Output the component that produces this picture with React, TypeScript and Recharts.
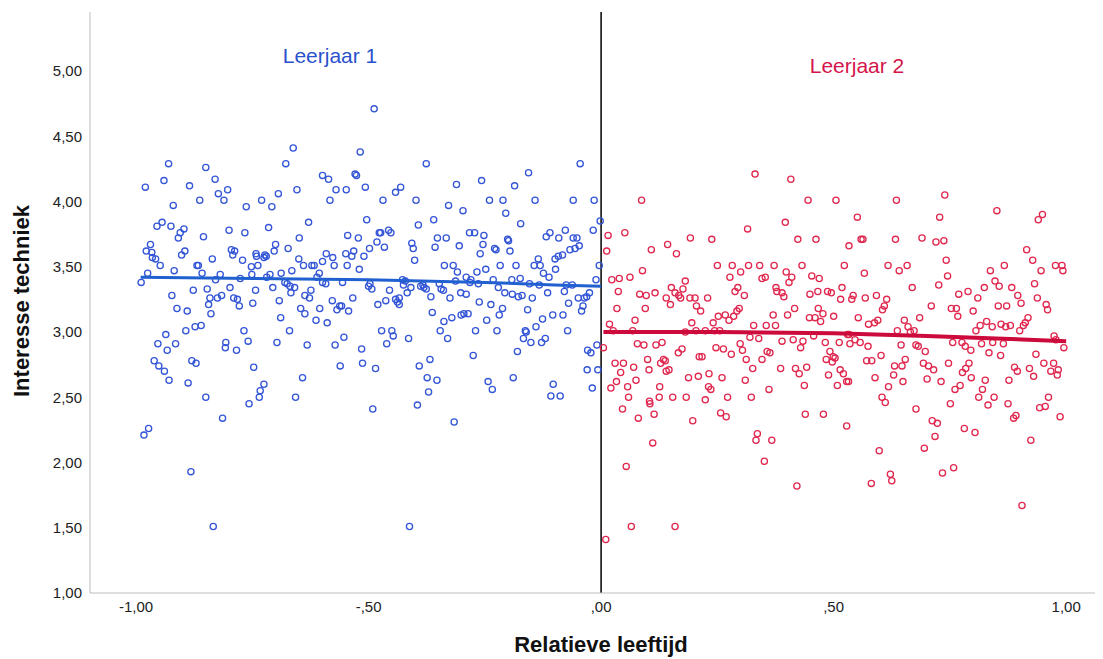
import { ScatterChart, Scatter, XAxis, YAxis, ReferenceLine } from "recharts";

// Leerjaar 1: [relatieve leeftijd, interesse techniek]
const leerjaar1: [number, number][] = [
  [-0.98, 4.11], [-0.93, 4.29], [-0.94, 4.16], [-0.92, 3.97], [-0.85, 4.26], [-0.83, 4.17], [-0.885, 4.12],
  [-0.863, 4.01], [-0.823, 4.06], [-0.803, 4.09], [-0.811, 4.01], [-0.763, 3.96], [-0.73, 4.01], [-0.708, 3.96],
  [-0.694, 4.06], [-0.678, 4.29], [-0.662, 4.41], [-0.654, 4.09], [-0.599, 4.2], [-0.586, 4.17], [-0.57, 4.09],
  [-0.548, 4.09], [-0.583, 4.01], [-0.629, 3.84], [-0.649, 3.72], [-0.673, 3.64], [-0.7, 3.67], [-0.715, 3.8],
  [-0.766, 3.76], [-0.8, 3.78], [-0.795, 3.63], [-0.788, 3.62], [-0.855, 3.73], [-0.897, 3.79], [-0.905, 3.76],
  [-0.909, 3.72], [-0.925, 3.81], [-0.944, 3.84], [-0.955, 3.81], [-0.969, 3.67], [-0.978, 3.62], [-0.966, 3.61],
  [-0.895, 3.62], [-0.742, 3.6], [-0.723, 3.59], [-0.703, 3.62], [-0.591, 3.6], [-0.549, 3.6], [-0.545, 3.74],
  [-0.488, 4.71], [-0.518, 4.38], [-0.376, 4.29], [-0.529, 4.21], [-0.526, 4.2], [-0.507, 4.11], [-0.469, 4.01],
  [-0.442, 4.07], [-0.431, 4.11], [-0.398, 4.01], [-0.311, 4.13], [-0.257, 4.16], [-0.328, 3.97], [-0.297, 3.93],
  [-0.24, 4.01], [-0.211, 4.01], [-0.205, 3.91], [-0.186, 4.12], [-0.156, 4.22], [-0.142, 4.01], [-0.173, 3.83],
  [-0.045, 4.29], [-0.06, 4.01], [-0.015, 4.01], [-0.002, 3.85], [-0.017, 3.78], [-0.077, 3.78], [-0.11, 3.76],
  [-0.118, 3.73], [-0.091, 3.72], [-0.06, 3.72], [-0.052, 3.72], [-0.047, 3.66], [-0.067, 3.63], [-0.056, 3.64],
  [-0.504, 3.86], [-0.522, 3.72], [-0.477, 3.76], [-0.474, 3.76], [-0.457, 3.78], [-0.452, 3.76], [-0.482, 3.69],
  [-0.466, 3.65], [-0.498, 3.64], [-0.393, 3.82], [-0.36, 3.86], [-0.407, 3.68], [-0.404, 3.64], [-0.352, 3.72],
  [-0.333, 3.72], [-0.357, 3.65], [-0.305, 3.66], [-0.283, 3.76], [-0.272, 3.76], [-0.252, 3.74], [-0.254, 3.67],
  [-0.229, 3.64], [-0.226, 3.63], [-0.201, 3.71], [-0.199, 3.7], [-0.196, 3.62], [-0.532, 3.62], [-0.26, 3.6],
  [-0.965, 3.57], [-0.958, 3.56], [-0.948, 3.51], [-0.975, 3.45], [-0.989, 3.38], [-0.902, 3.59], [-0.918, 3.47],
  [-0.869, 3.51], [-0.866, 3.51], [-0.858, 3.45], [-0.836, 3.56], [-0.819, 3.44], [-0.829, 3.4], [-0.792, 3.59],
  [-0.771, 3.55], [-0.776, 3.41], [-0.798, 3.34], [-0.741, 3.58], [-0.725, 3.57], [-0.72, 3.58], [-0.752, 3.5],
  [-0.738, 3.51], [-0.751, 3.44], [-0.719, 3.42], [-0.712, 3.44], [-0.688, 3.45], [-0.665, 3.47], [-0.65, 3.56],
  [-0.64, 3.51], [-0.622, 3.51], [-0.617, 3.51], [-0.577, 3.57], [-0.599, 3.54], [-0.574, 3.51], [-0.546, 3.51],
  [-0.611, 3.42], [-0.606, 3.45], [-0.599, 3.38], [-0.592, 3.37], [-0.556, 3.38], [-0.68, 3.38], [-0.675, 3.37],
  [-0.669, 3.35], [-0.659, 3.34], [-0.706, 3.34], [-0.743, 3.32], [-0.847, 3.33], [-0.877, 3.32], [-0.923, 3.28],
  [-0.841, 3.26], [-0.844, 3.21], [-0.825, 3.26], [-0.816, 3.28], [-0.839, 3.14], [-0.912, 3.18], [-0.89, 3.16],
  [-0.79, 3.26], [-0.782, 3.25], [-0.778, 3.2], [-0.749, 3.22], [-0.692, 3.24], [-0.667, 3.3], [-0.637, 3.28],
  [-0.627, 3.26], [-0.624, 3.32], [-0.646, 3.18], [-0.637, 3.14], [-0.689, 3.11], [-0.605, 3.18], [-0.613, 3.09],
  [-0.589, 3.07], [-0.578, 3.24], [-0.568, 3.17], [-0.562, 3.2], [-0.558, 3.2], [-0.543, 3.16], [-0.553, 2.96],
  [-0.572, 2.9], [-0.561, 2.74], [-0.632, 2.9], [-0.67, 3.01], [-0.697, 2.92], [-0.642, 2.65], [-0.657, 2.5],
  [-0.725, 2.6], [-0.733, 2.55], [-0.735, 2.5], [-0.747, 2.73], [-0.757, 2.45], [-0.768, 3.01], [-0.759, 2.93],
  [-0.784, 2.86], [-0.807, 2.92], [-0.808, 2.88], [-0.85, 2.5], [-0.888, 2.61], [-0.86, 3.05], [-0.873, 3.04],
  [-0.893, 3.01], [-0.88, 2.78], [-0.871, 2.76], [-0.936, 2.98], [-0.953, 2.91], [-0.933, 2.86], [-0.915, 2.91],
  [-0.961, 2.78], [-0.951, 2.74], [-0.939, 2.7], [-0.929, 2.63], [-0.814, 2.34], [-0.973, 2.26], [-0.983, 2.21],
  [-0.882, 1.93], [-0.834, 1.51],
  [-0.536, 3.58], [-0.51, 3.58], [-0.52, 3.48], [-0.5, 3.35], [-0.493, 3.33], [-0.497, 3.37], [-0.534, 3.26],
  [-0.455, 3.32], [-0.48, 3.21], [-0.463, 3.24], [-0.442, 3.25], [-0.438, 3.23], [-0.434, 3.21], [-0.434, 3.26],
  [-0.427, 3.4], [-0.421, 3.39], [-0.425, 3.36], [-0.409, 3.34], [-0.417, 3.3], [-0.401, 3.55], [-0.388, 3.35],
  [-0.383, 3.36], [-0.381, 3.34], [-0.376, 3.33], [-0.366, 3.27], [-0.363, 3.15], [-0.348, 3.37], [-0.344, 3.33],
  [-0.339, 3.32], [-0.337, 3.51], [-0.318, 3.51], [-0.309, 3.46], [-0.325, 3.26], [-0.29, 3.42], [-0.28, 3.4],
  [-0.282, 3.38], [-0.267, 3.46], [-0.248, 3.48], [-0.313, 3.39], [-0.302, 3.3], [-0.29, 3.29], [-0.264, 3.37],
  [-0.232, 3.4], [-0.221, 3.34], [-0.207, 3.3], [-0.217, 3.51], [-0.183, 3.51], [-0.192, 3.4], [-0.174, 3.41],
  [-0.191, 3.29], [-0.178, 3.27], [-0.17, 3.28], [-0.154, 3.37], [-0.133, 3.36], [-0.148, 3.26], [-0.115, 3.3],
  [-0.144, 3.51], [-0.131, 3.51], [-0.135, 3.56], [-0.124, 3.45], [-0.112, 3.42], [-0.098, 3.48], [-0.099, 3.56],
  [-0.092, 3.58], [-0.083, 3.59], [-0.079, 3.31], [-0.075, 3.36], [-0.062, 3.36], [-0.049, 3.26], [-0.036, 3.26],
  [-0.031, 3.27], [-0.025, 3.3], [-0.07, 3.22], [-0.039, 3.2], [-0.042, 3.16], [-0.011, 3.4], [-0.004, 3.51],
  [-0.262, 3.23], [-0.237, 3.21], [-0.212, 3.18], [-0.219, 3.13], [-0.158, 3.17], [-0.126, 3.1], [-0.104, 3.13],
  [-0.082, 3.13], [-0.301, 3.13], [-0.295, 3.14], [-0.286, 3.14], [-0.321, 3.11], [-0.338, 3.08], [-0.246, 3.09],
  [-0.346, 3.01], [-0.33, 2.95], [-0.27, 3.01], [-0.224, 3.01], [-0.163, 3.01], [-0.161, 3.0], [-0.167, 2.95],
  [-0.14, 3.04], [-0.151, 2.92], [-0.128, 2.92], [-0.12, 2.95], [-0.072, 3.01], [-0.18, 2.85], [-0.275, 2.82],
  [-0.472, 3.01], [-0.45, 3.01], [-0.447, 2.97], [-0.461, 2.91], [-0.414, 2.95], [-0.515, 2.87], [-0.513, 2.76],
  [-0.485, 2.72], [-0.391, 2.74], [-0.368, 2.79], [-0.374, 2.65], [-0.353, 2.63], [-0.371, 2.54], [-0.243, 2.62],
  [-0.234, 2.56], [-0.189, 2.65], [-0.103, 2.6], [-0.108, 2.51], [-0.088, 2.51], [-0.029, 2.86], [-0.022, 2.84],
  [-0.009, 2.9], [-0.03, 2.71], [-0.007, 2.71], [-0.019, 2.57], [-0.395, 2.44], [-0.491, 2.41], [-0.316, 2.31],
  [-0.412, 1.51],
];

// Leerjaar 2
const leerjaar2: [number, number][] = [
  [0.331, 4.21], [0.408, 4.17], [0.087, 4.01], [0.445, 4.01], [0.505, 4.01], [0.315, 3.79], [0.396, 3.84],
  [0.423, 3.71], [0.462, 3.71], [0.015, 3.74], [0.051, 3.76], [0.012, 3.62], [0.108, 3.63], [0.143, 3.67],
  [0.162, 3.6], [0.192, 3.72], [0.238, 3.71], [0.533, 3.66], [0.635, 4.01], [0.739, 4.05], [0.551, 3.88],
  [0.728, 3.88], [0.851, 3.93], [0.94, 3.86], [0.949, 3.9], [0.559, 3.71], [0.563, 3.71], [0.633, 3.71],
  [0.69, 3.72], [0.72, 3.69], [0.737, 3.7], [0.915, 3.63],
  [0.25, 3.51], [0.282, 3.51], [0.317, 3.51], [0.341, 3.51], [0.372, 3.51], [0.432, 3.51], [0.523, 3.51],
  [0.277, 3.42], [0.3, 3.46], [0.346, 3.41], [0.353, 3.42], [0.398, 3.46], [0.41, 3.42], [0.404, 3.38],
  [0.453, 3.43], [0.469, 3.41], [0.089, 3.47], [0.062, 3.42], [0.023, 3.4], [0.039, 3.41], [0.037, 3.31],
  [0.083, 3.29], [0.097, 3.28], [0.116, 3.3], [0.034, 3.18], [0.095, 3.18], [0.018, 3.06], [0.073, 3.09],
  [0.151, 3.34], [0.159, 3.3], [0.167, 3.28], [0.176, 3.33], [0.181, 3.39], [0.14, 3.26], [0.149, 3.21],
  [0.171, 3.26], [0.191, 3.26], [0.202, 3.26], [0.205, 3.2], [0.214, 3.16], [0.229, 3.26], [0.195, 3.07],
  [0.288, 3.31], [0.294, 3.34], [0.308, 3.28], [0.252, 3.12], [0.267, 3.13], [0.275, 3.09], [0.285, 3.12],
  [0.292, 3.16], [0.297, 3.18], [0.241, 3.07], [0.328, 3.05], [0.355, 3.05], [0.375, 3.05], [0.37, 3.13],
  [0.401, 3.13], [0.416, 3.18], [0.376, 3.34], [0.378, 3.31], [0.389, 3.3], [0.393, 3.27], [0.449, 3.29],
  [0.466, 3.31], [0.487, 3.31], [0.495, 3.3], [0.518, 3.34], [0.515, 3.25], [0.467, 3.18], [0.477, 3.14],
  [0.472, 3.08], [0.448, 3.11], [0.46, 3.11], [0.5, 3.12], [0.181, 3.0], [0.204, 3.01], [0.224, 3.01],
  [0.244, 3.01], [0.255, 3.01], [0.026, 3.01], [0.068, 3.01], [0.005, 2.88], [0.078, 2.91], [0.092, 2.9],
  [0.118, 2.9], [0.131, 2.92], [0.166, 2.84], [0.174, 2.87], [0.211, 2.81], [0.217, 2.81], [0.134, 2.79],
  [0.138, 2.78], [0.128, 2.76], [0.14, 2.7], [0.146, 2.71], [0.1, 2.79], [0.03, 2.76], [0.048, 2.76],
  [0.042, 2.69], [0.07, 2.73], [0.103, 2.71], [0.075, 2.63], [0.033, 2.62], [0.021, 2.57], [0.057, 2.58],
  [0.059, 2.5], [0.104, 2.47], [0.126, 2.58], [0.125, 2.5], [0.154, 2.5], [0.183, 2.5], [0.188, 2.65],
  [0.209, 2.66], [0.232, 2.68], [0.231, 2.58], [0.236, 2.56], [0.224, 2.48], [0.247, 2.88], [0.263, 2.87],
  [0.28, 2.83], [0.26, 2.65], [0.272, 2.5], [0.299, 2.91], [0.304, 2.86], [0.312, 2.79], [0.32, 2.96],
  [0.339, 2.95], [0.346, 2.79], [0.357, 2.85], [0.363, 2.84], [0.326, 2.72], [0.31, 2.63], [0.323, 2.5],
  [0.361, 2.56], [0.389, 2.93], [0.413, 2.94], [0.434, 2.93], [0.429, 2.88], [0.386, 2.72], [0.418, 2.72],
  [0.426, 2.68], [0.442, 2.73], [0.437, 2.59], [0.457, 2.97], [0.482, 2.92], [0.492, 2.85], [0.499, 2.81],
  [0.484, 2.79], [0.503, 2.8], [0.497, 2.77], [0.512, 2.92], [0.53, 2.98], [0.514, 2.71], [0.521, 2.68],
  [0.489, 2.67], [0.508, 2.59], [0.528, 2.62],
  [0.046, 2.41], [0.08, 2.34], [0.105, 2.45], [0.114, 2.37], [0.111, 2.15], [0.054, 1.97], [0.065, 1.51],
  [0.159, 1.51], [0.01, 1.41], [0.197, 2.32], [0.257, 2.38], [0.269, 2.35], [0.336, 2.22], [0.333, 2.17],
  [0.367, 2.17], [0.351, 2.01], [0.421, 1.82], [0.439, 2.37], [0.478, 2.37], [0.528, 2.28],
  [0.604, 2.5], [0.611, 2.46], [0.677, 2.41], [0.751, 2.45], [0.812, 2.5], [0.845, 2.5], [0.832, 2.44],
  [0.875, 2.45], [0.943, 2.42], [0.955, 2.43], [0.962, 2.5], [0.887, 2.34], [0.892, 2.36], [0.987, 2.35],
  [0.712, 2.32], [0.723, 2.3], [0.781, 2.26], [0.804, 2.23], [0.718, 2.2], [0.695, 2.11], [0.924, 2.17],
  [0.598, 2.09], [0.622, 1.91], [0.625, 1.86], [0.581, 1.84], [0.734, 1.92], [0.758, 1.96], [0.905, 1.67],
  [0.617, 3.51], [0.641, 3.47], [0.658, 3.51], [0.566, 3.45], [0.742, 3.55], [0.745, 3.43], [0.837, 3.47],
  [0.867, 3.51], [0.928, 3.55], [0.946, 3.47], [0.977, 3.51], [0.991, 3.51], [0.993, 3.47], [0.669, 3.34],
  [0.726, 3.36], [0.847, 3.39], [0.856, 3.35], [0.824, 3.34], [0.883, 3.34], [0.932, 3.37], [0.769, 3.29],
  [0.789, 3.31], [0.81, 3.26], [0.896, 3.28], [0.903, 3.22], [0.938, 3.26], [0.957, 3.21], [0.96, 3.17],
  [0.872, 3.2], [0.854, 3.2], [0.8, 3.16], [0.753, 3.18], [0.764, 3.18], [0.767, 3.12], [0.71, 3.2],
  [0.542, 3.28], [0.539, 3.25], [0.568, 3.26], [0.592, 3.28], [0.614, 3.25], [0.609, 3.2], [0.605, 3.17],
  [0.553, 3.11], [0.575, 3.06], [0.588, 3.07], [0.595, 3.09], [0.652, 3.09], [0.66, 3.04], [0.673, 3.01],
  [0.665, 3.0], [0.685, 3.11], [0.637, 3.01], [0.829, 3.08], [0.841, 3.04], [0.86, 3.06], [0.88, 3.05],
  [0.87, 3.04], [0.815, 3.05], [0.806, 3.01], [0.908, 3.05], [0.912, 3.07], [0.918, 3.11], [0.9, 3.01],
  [0.974, 2.97], [0.978, 2.94], [0.995, 2.88], [0.533, 2.98], [0.546, 2.94], [0.557, 2.92], [0.535, 2.91],
  [0.574, 2.89], [0.602, 2.82], [0.571, 2.78], [0.582, 2.78], [0.645, 2.9], [0.677, 2.9], [0.682, 2.89],
  [0.697, 2.85], [0.654, 2.79], [0.647, 2.74], [0.631, 2.74], [0.693, 2.76], [0.704, 2.74], [0.715, 2.71],
  [0.747, 2.76], [0.756, 2.92], [0.776, 2.92], [0.783, 2.89], [0.795, 2.86], [0.818, 2.91], [0.842, 2.92],
  [0.865, 2.91], [0.834, 2.84], [0.859, 2.82], [0.791, 2.76], [0.784, 2.72], [0.777, 2.69], [0.796, 2.65],
  [0.826, 2.63], [0.877, 2.63], [0.889, 2.73], [0.895, 2.7], [0.921, 2.72], [0.93, 2.66], [0.935, 2.83],
  [0.952, 2.76], [0.973, 2.76], [0.967, 2.7], [0.983, 2.71], [0.981, 2.67], [0.589, 2.65], [0.618, 2.58],
  [0.629, 2.67], [0.649, 2.62], [0.532, 2.62], [0.701, 2.64], [0.731, 2.62], [0.761, 2.56], [0.772, 2.59],
  [0.82, 2.56],
];

// fit lines
const fit1: [number, number][] = [[-0.99, 3.42], [-0.75, 3.41], [-0.5, 3.4], [-0.25, 3.38], [-0.1, 3.36], [0, 3.35]];
const fit2: [number, number][] = [[0.005, 3.0], [0.25, 3.0], [0.5, 2.99], [0.7, 2.97], [0.85, 2.95], [1.0, 2.93]];

const X_TICKS = [-1, -0.5, 0, 0.5, 1];
const Y_TICKS = [1, 1.5, 2, 2.5, 3, 3.5, 4, 4.5, 5];

const BLUE = "#3355d6";
const BLUE_LINE = "#2060d0";
const RED = "#e0284f";
const RED_LINE = "#cc0a3c";
const FONT = '"Liberation Sans", Arial, sans-serif';

const toPts = (arr: [number, number][]) => arr.map(([x, y]) => ({ x, y }));

// SPSS style: -1,00  -,50  ,00
const fmt = (v: number) => {
  const s = Math.abs(v).toFixed(2).replace(".", ",").replace(/^0/, "");
  return (v < 0 ? "-" : "") + s;
};

const ring = (color: string) => (p: any) => (
  <circle cx={p.cx} cy={p.cy} r={3.1} fill="none" stroke={color} strokeWidth={1.3} />
);

export default function App() {
  return (
    <div style={{ position: "absolute", left: 0, top: 0, width: 1103, height: 659, background: "#fff", fontFamily: FONT }}>
      <ScatterChart width={1103} height={659} margin={{ top: 12, right: 8, bottom: 0, left: 0 }}>
        <XAxis
          type="number"
          dataKey="x"
          domain={[-1.099, 1.062]}
          ticks={X_TICKS}
          tickFormatter={fmt}
          allowDataOverflow
          height={66}
          axisLine={{ stroke: "#bdbdbd" }}
          tickLine={false}
          tick={{ fill: "#222", fontSize: 15, fontFamily: FONT }}
        />
        <YAxis
          type="number"
          dataKey="y"
          domain={[1, 5.452]}
          ticks={Y_TICKS}
          tickFormatter={(v: number) => v.toFixed(2).replace(".", ",")}
          allowDataOverflow
          width={90}
          axisLine={{ stroke: "#bdbdbd" }}
          tickLine={false}
          tick={{ fill: "#222", fontSize: 15, fontFamily: FONT }}
        />
        <ReferenceLine x={0} stroke="#000" strokeWidth={1.5} />
        <Scatter data={toPts(leerjaar1)} shape={ring(BLUE)} isAnimationActive={false} />
        <Scatter data={toPts(leerjaar2)} shape={ring(RED)} isAnimationActive={false} />
        <Scatter
          data={toPts(fit1)}
          line={{ stroke: BLUE_LINE, strokeWidth: 3 }}
          lineType="joint"
          shape={() => <g />}
          isAnimationActive={false}
        />
        <Scatter
          data={toPts(fit2)}
          line={{ stroke: RED_LINE, strokeWidth: 4 }}
          lineType="joint"
          shape={() => <g />}
          isAnimationActive={false}
        />
      </ScatterChart>
      <div style={{ position: "absolute", left: 330, top: 56, transform: "translate(-50%, -50%)", color: "#2a52cc", fontSize: 21, whiteSpace: "nowrap" }}>
        Leerjaar 1
      </div>
      <div style={{ position: "absolute", left: 857, top: 66, transform: "translate(-50%, -50%)", color: "#d4144a", fontSize: 21, whiteSpace: "nowrap" }}>
        Leerjaar 2
      </div>
      <div style={{ position: "absolute", left: 601, top: 645, transform: "translate(-50%, -50%)", fontWeight: "bold", fontSize: 22, color: "#111", whiteSpace: "nowrap" }}>
        Relatieve leeftijd
      </div>
      <div style={{ position: "absolute", left: 22, top: 301, transform: "translate(-50%, -50%) rotate(-90deg)", fontWeight: "bold", fontSize: 22, color: "#111", whiteSpace: "nowrap" }}>
        Interesse techniek
      </div>
    </div>
  );
}
